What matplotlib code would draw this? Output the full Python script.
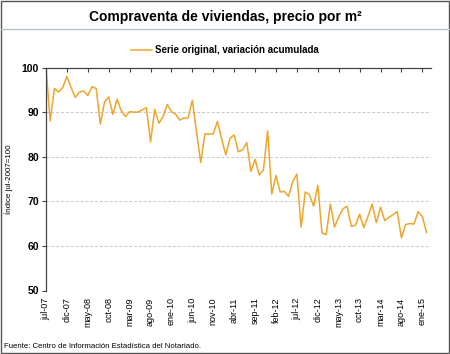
import matplotlib
matplotlib.use("Agg")
import matplotlib.pyplot as plt
from matplotlib.lines import Line2D
from matplotlib.patches import Rectangle

plt.rcParams['font.family'] = ['Liberation Sans', 'DejaVu Sans']

# datos: indice mensual jul-07 .. feb-15 (jul-2007 = 100)
valores = [100, 88, 95.3, 94.5, 95.5, 98, 95.5, 93.3, 94.5, 94.7, 93.7, 95.7, 95.3, 87.3,
           92.3, 93.4, 89.5, 92.9, 90.3, 89, 90.1, 90, 90, 90.5, 91, 83.3, 90.6, 87.5,
           89, 91.7, 90.1, 89.5, 88.2, 88.7, 88.7, 92.7, 85.5, 78.7, 85.1, 85.1, 85.1, 87.9,
           84, 80.4, 84.1, 84.9, 81.1, 81.5, 83.2, 76.7, 79.4, 75.9, 77.0, 85.8, 71.6, 75.8,
           72.1, 72.2,
           71.1, 74.4, 76.1, 64.2, 72.1, 71.5, 68.9, 73.6, 62.9, 62.5, 69.4, 64.2, 66.5, 68.3,
           68.9, 64.4, 64.6, 67.1, 64.1, 66.6, 69.4, 65.2, 68.7, 65.7, 66.4, 67.0, 67.7, 61.8,
           64.8, 65.0, 64.9, 67.7, 66.6, 63.0]
etiquetas = ["jul-07", "dic-07", "may-08", "oct-08", "mar-09", "ago-09", "ene-10",
             "jun-10", "nov-10", "abr-11", "sep-11", "feb-12", "jul-12", "dic-12",
             "may-13", "oct-13", "mar-14", "ago-14", "ene-15"]
yticks = [50, 60, 70, 80, 90, 100]

fig = plt.figure(figsize=(4.5, 3.54), dpi=100)

# marco exterior y separador del titulo
fig.patches.append(Rectangle((0.002, 0.003), 0.996, 0.994, transform=fig.transFigure,
                             fill=False, edgecolor='#555555', linewidth=1.0))
fig.lines.append(Line2D([0.003, 0.997], [1 - 29 / 354, 1 - 29 / 354], transform=fig.transFigure,
                        color='#b8c4cc', linewidth=1.0))

fig.text(0.5, 1 - 17 / 354, "Compraventa de viviendas, precio por m²", ha='center', va='center',
         fontsize=10, fontweight='bold')

ax = fig.add_axes([46 / 450, 1 - 290.5 / 354, (430.7 - 46) / 450, (290.5 - 67.5) / 354])
x = list(range(len(valores)))
ax.plot(x, valores, color='#eea62c', linewidth=1.1, label="Serie original, variación acumulada")

ax.set_xlim(0, 92)
ax.set_ylim(50, 100)
ax.set_yticks(yticks)
ax.set_yticklabels([str(v) for v in yticks], fontweight='bold', fontsize=7.5)
ax.set_xticks(range(0, 5 * len(etiquetas), 5))
ax.set_xticklabels(etiquetas, rotation=90, fontsize=6.5)

ax.tick_params(axis='x', top=True, bottom=False, labeltop=False, labelbottom=True,
               direction='in', length=3, color='#444444', pad=5)
ax.tick_params(axis='y', direction='out', length=3, color='#444444', pad=2)

for s in ['right', 'bottom']:
    ax.spines[s].set_visible(False)
for s in ['left', 'top']:
    ax.spines[s].set_color('#444444')
    ax.spines[s].set_linewidth(0.9)

for v in yticks[:-1]:
    ax.axhline(v, color='#c8c8c8', linestyle=(0, (3, 2)), linewidth=0.7, zorder=0)
ax.set_ylabel("Índice jul-2007=100", fontsize=5.8, labelpad=6)

fig.legend(loc='center', bbox_to_anchor=(0.5, 1 - 50 / 354), frameon=False,
           prop={'size': 7, 'weight': 'bold'}, handlelength=2.2, handletextpad=0.3)

fig.text(4 / 450, 1 - 347 / 354, "Fuente: Centro de Información Estadística del Notariado.",
         fontsize=5.6, ha='left', va='center')

fig.savefig("out.png", dpi=100)
